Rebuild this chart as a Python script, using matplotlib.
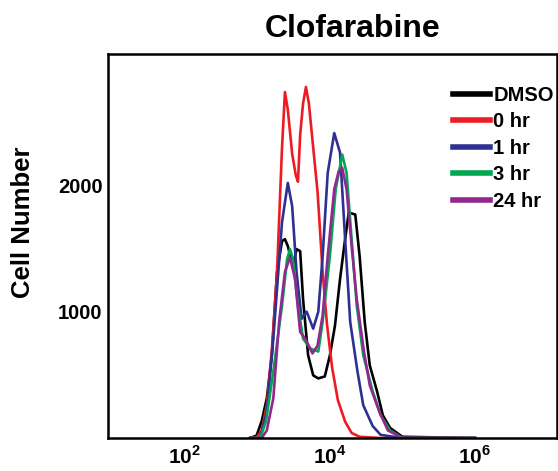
# Clofarabine cell-cycle histograms (flow cytometry)

import numpy as np
import matplotlib.pyplot as plt

plt.rcParams['font.family'] = ['Liberation Sans', 'DejaVu Sans']
plt.rcParams['font.weight'] = 'bold'
plt.rcParams['mathtext.fontset'] = 'custom'
plt.rcParams['mathtext.rm'] = 'Liberation Sans:bold'
plt.rcParams['mathtext.bf'] = 'Liberation Sans:bold'

# fluorescence positions in decades (log10) and cell counts
dmso_log = [2.9, 2.99, 3.06, 3.13, 3.20, 3.27, 3.34, 3.38, 3.42, 3.49, 3.54, 3.59, 3.63, 3.70,
            3.77, 3.84, 3.93, 4.00, 4.07, 4.14, 4.21, 4.26, 4.35, 4.41, 4.48, 4.55, 4.65, 4.73, 4.83, 5.0, 6.0]
dmso_val = [0, 20, 134, 315, 655, 1315, 1560, 1575, 1520, 1360, 1496, 1480, 1100, 655,
            496, 472, 488, 655, 890, 1260, 1575, 1785, 1770, 1440, 920, 575, 370, 180, 80, 10, 0]

hr0_log = [2.9, 2.99, 3.06, 3.13, 3.20, 3.27, 3.34, 3.38, 3.42, 3.48, 3.53, 3.56, 3.59, 3.63, 3.67,
           3.71, 3.77, 3.83, 3.90, 3.96, 4.03, 4.11, 4.21, 4.30, 4.41, 4.7, 6.0]
hr0_val = [0, 5, 60, 260, 700, 1300, 2300, 2740, 2600, 2250, 2080, 2030, 2400, 2650, 2780,
           2650, 2300, 1950, 1315, 900, 560, 300, 130, 40, 10, 0, 0]

hr1_log = [2.9, 3.04, 3.13, 3.22, 3.34, 3.42, 3.48, 3.54, 3.61, 3.68, 3.77, 3.84, 3.90, 3.97,
           4.06, 4.14, 4.21, 4.28, 4.38, 4.46, 4.59, 4.70, 5.0, 6.0]
hr1_val = [0, 0, 210, 787, 1710, 2020, 1835, 1315, 945, 1000, 866, 1000, 1440, 2100,
           2415, 2260, 1575, 920, 528, 260, 95, 25, 0, 0]

hr3_log = [2.9, 3.04, 3.12, 3.22, 3.34, 3.41, 3.45, 3.49, 3.56, 3.63, 3.73, 3.84, 3.90, 4.00,
           4.08, 4.17, 4.23, 4.30, 4.37, 4.46, 4.59, 4.70, 4.83, 5.0, 6.0]
hr3_val = [0, 0, 134, 528, 1050, 1417, 1496, 1417, 1050, 787, 709, 685, 920, 1440,
           1970, 2245, 2100, 1575, 1050, 655, 370, 180, 60, 0, 0]

hr24_log = [2.9, 3.06, 3.13, 3.22, 3.30, 3.38, 3.45, 3.52, 3.59, 3.66, 3.76, 3.83, 3.90, 3.97,
            4.06, 4.12, 4.17, 4.23, 4.30, 4.37, 4.47, 4.55, 4.68, 4.80, 5.0, 6.0]
hr24_val = [0, 0, 60, 315, 920, 1315, 1430, 1260, 840, 787, 670, 732, 970, 1440,
            1970, 2110, 2140, 1970, 1520, 1100, 685, 417, 212, 60, 0, 0]

labels = ['DMSO', '0 hr', '1 hr', '3 hr', '24 hr']
colors = ['#000000', '#ed1c24', '#2e3192', '#00a651', '#92278f']
series = [(dmso_log, dmso_val), (hr0_log, hr0_val), (hr1_log, hr1_val),
          (hr3_log, hr3_val), (hr24_log, hr24_val)]

fig = plt.figure(figsize=(5.58, 4.71), dpi=100)
ax = fig.add_axes([0.1935, 0.070, 0.8045, 0.815])

for (lx, vals), lab, col in zip(series, labels, colors):
    ax.plot(10 ** np.array(lx), vals, color=col, lw=1.9, label=lab)

ax.set_xscale('log')
ax.set_xlim(10 ** 0.94, 10 ** 7.13)
ax.set_ylim(0, 3040)

ax.set_xticks([1e2, 1e4, 1e6])
ax.set_xticklabels([r'$10^{2}$', r'$10^{4}$', r'$10^{6}$'], fontsize=15)
ax.xaxis.set_minor_locator(plt.NullLocator())
ax.set_yticks([1000, 2000])
ax.set_yticklabels(['1000', '2000'], fontsize=14.5, fontweight='bold')
ax.tick_params(axis='both', length=0)
ax.tick_params(axis='y', pad=4)
ax.tick_params(axis='x', pad=5)

for sp in ax.spines.values():
    sp.set_linewidth(1.8)

ax.set_ylabel('Cell Number', fontsize=18.5, fontweight='bold')
ax.yaxis.set_label_coords(-0.163, 0.5625)
ax.set_title('Clofarabine', fontsize=23, fontweight='bold', pad=12, x=0.546)

leg = ax.legend(loc='upper right', bbox_to_anchor=(0.993, 0.917), frameon=False,
                handlelength=1.85, handletextpad=0.15, labelspacing=0.37,
                borderaxespad=0, borderpad=0,
                prop={'weight': 'bold', 'size': 14.5})
for h in leg.get_lines():
    h.set_linewidth(4)

fig.savefig('out.png', dpi=100)
